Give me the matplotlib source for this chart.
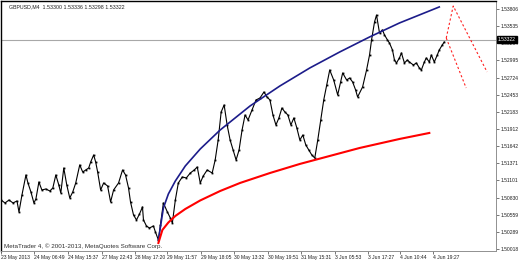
import numpy as np
import matplotlib
matplotlib.use("Agg")
import matplotlib.pyplot as plt

plt.rcParams["font.family"] = ["Liberation Sans", "DejaVu Sans"]

# price path (bar number, price)
bars = [0, 4, 8, 12, 16, 18, 21, 25, 27, 30, 33, 35, 38, 41, 45, 49, 52, 55, 58, 60,
        63, 66, 69, 72, 75, 79, 82, 85, 88, 90, 93, 95, 97, 100, 103, 107, 110, 113, 118, 122,
        125, 128, 130, 133, 136, 139, 142, 143, 146, 149, 153, 155, 158, 160, 163, 167, 170, 172, 175, 178,
        182, 186, 190, 194, 197, 200, 203, 207, 212, 215, 218, 221, 224, 227, 230, 233, 236, 239, 242, 245,
        248, 252, 256, 260, 264, 267, 270, 273, 276, 279, 282, 285, 288, 291, 294, 297, 300, 303, 306, 309,
        312, 315, 318, 321, 324, 327, 330, 334, 338, 341, 343, 347, 350, 353, 356, 358, 363, 367, 370, 372,
        375, 377, 380, 383, 385, 388, 390, 393, 395, 397, 400, 402, 405, 408, 410, 414, 417, 420, 422, 425,
        427, 430, 432, 435, 438, 440, 443, 445]
close = [1.50791, 1.50744, 1.50791, 1.50744, 1.50776, 1.50602, 1.50870, 1.51186, 1.51060, 1.50918,
         1.50744, 1.50807, 1.51075, 1.50949, 1.50965, 1.50933, 1.50981, 1.51186, 1.51028, 1.50902,
         1.51296, 1.51028, 1.50823, 1.50918, 1.51060, 1.51344, 1.51233, 1.51265, 1.51296, 1.51391,
         1.51502, 1.51391, 1.51233, 1.50949, 1.51060, 1.51012, 1.50760, 1.50949, 1.51060, 1.51265,
         1.51186, 1.50981, 1.50760, 1.50555, 1.50476, 1.50570, 1.50681, 1.50476, 1.50381, 1.50349,
         1.50381, 1.50286, 1.50160, 1.50397, 1.50744, 1.50602, 1.50507, 1.50428, 1.50791, 1.51060,
         1.51154, 1.51139, 1.51217, 1.51265, 1.51312, 1.51060, 1.51170, 1.51265, 1.51217, 1.51423,
         1.51738, 1.52180, 1.52291, 1.51975, 1.51738, 1.51581, 1.51423, 1.51581, 1.51896, 1.52133,
         1.52054, 1.52212, 1.52370, 1.52401, 1.52496, 1.52417, 1.52370, 1.52133, 1.51975, 1.52086,
         1.52243, 1.52180, 1.52133, 1.51975, 1.52086, 1.51928, 1.51738, 1.51817, 1.51659, 1.51581,
         1.51502, 1.51454, 1.51738, 1.52054, 1.52370, 1.52606, 1.52843, 1.52685, 1.52449, 1.52654,
         1.52796, 1.52685, 1.52717, 1.52654, 1.52528, 1.52417, 1.52575, 1.52843, 1.53080, 1.53317,
         1.53601, 1.53711, 1.53427, 1.53475, 1.53396, 1.53317, 1.53269, 1.53159, 1.53001, 1.52954,
         1.53033, 1.53112, 1.52954, 1.53001, 1.52969, 1.52922, 1.52954, 1.52875, 1.52843, 1.52969,
         1.53033, 1.52969, 1.53080, 1.52969, 1.53080, 1.53159, 1.53238, 1.53285]

# blue arc
blue_bars = [158, 163, 168, 175, 185, 200, 220, 250, 280, 310, 340, 370, 400, 440]
blue_price = [1.50160, 1.50665, 1.50886, 1.51091, 1.51328, 1.51596, 1.51896, 1.52275,
              1.52591, 1.52875, 1.53127, 1.53364, 1.53585, 1.53838]
# red arc
red_bars = [158, 162, 168, 175, 185, 200, 220, 240, 270, 300, 330, 360, 400, 430]
red_price = [1.50113, 1.50318, 1.50436, 1.50539, 1.50649, 1.50784, 1.50933, 1.51060,
             1.51217, 1.51360, 1.51486, 1.51612, 1.51754, 1.51849]
# dotted projections
proj1_bars = [447, 454, 488]
proj1_price = [1.53348, 1.53853, 1.52812]
proj2_bars = [447, 467]
proj2_price = [1.53348, 1.52559]

current_price = 1.53322
ytick_vals = [1.53806, 1.53535, 1.53264, 1.52995, 1.52724, 1.52453, 1.52183, 1.51912,
              1.51642, 1.51371, 1.51101, 1.50830, 1.50559, 1.50289, 1.50018]
xtick_pos = [0, 33, 67, 101, 134, 167, 201, 234, 268, 301, 335, 368, 401, 434]
xtick_labels = ["23 May 2013", "24 May 06:49", "24 May 15:37", "27 May 22:43", "28 May 17:20",
                "29 May 11:57", "29 May 18:05", "30 May 13:32", "30 May 19:51", "31 May 15:31",
                "3 Jun 05:53", "3 Jun 17:27", "4 Jun 10:44", "4 Jun 19:27"]

fig = plt.figure(figsize=(5.2, 2.6), dpi=100)
ax = fig.add_axes([0.002, 9 / 260, 495 / 520, 250 / 260])
ax.set_xlim(0, 497)
ax.set_ylim(1.49986, 1.53932)

ax.axhline(current_price, color="#a8a8a8", lw=0.8, zorder=1)
ax.plot(bars, close, color="black", lw=0.8, marker="s", ms=1.3, mew=0, zorder=3)
ax.plot(blue_bars, blue_price, color="#1c1c8a", lw=1.2, zorder=4)
ax.plot(red_bars, red_price, color="#ff0000", lw=1.5, zorder=4)
ax.plot(proj1_bars, proj1_price, color="#ff2020", lw=0.8, ls=(0, (2, 2)), zorder=4)
ax.plot(proj2_bars, proj2_price, color="#ff2020", lw=0.8, ls=(0, (2, 2)), zorder=4)

ax.yaxis.tick_right()
ax.set_yticks(ytick_vals)
ax.set_yticklabels([f"{v:.5f}" for v in ytick_vals], fontsize=3.6, color="#202020")
ax.set_xticks(xtick_pos)
ax.set_xticklabels(xtick_labels, fontsize=3.6, ha="left", color="#202020")
ax.tick_params(axis="both", length=2, width=0.6, color="#606060", pad=1)

for s in ("left", "top"):
    ax.spines[s].set_color("black")
    ax.spines[s].set_linewidth(1.0)
for s in ("right", "bottom"):
    ax.spines[s].set_color("#909090")
    ax.spines[s].set_linewidth(0.7)
    ax.spines[s].set_linestyle((0, (1, 1)))

ax.text(0.016, 0.985, "GBPUSD,M4  1.53300 1.53336 1.53298 1.53322", transform=ax.transAxes,
        fontsize=3.8, va="top", ha="left", color="#202020")
ax.text(0.006, 0.008, "MetaTrader 4, \u00a9 2001-2013, MetaQuotes Software Corp.", transform=ax.transAxes,
        fontsize=4.5, va="bottom", ha="left", color="#303030")
ax.text(1.004, current_price, "1.53322", transform=ax.get_yaxis_transform(), fontsize=3.6,
        va="center", ha="left", color="white",
        bbox=dict(boxstyle="square,pad=0.15", fc="black", ec="black"), zorder=6)

fig.savefig("out.png", dpi=100)
